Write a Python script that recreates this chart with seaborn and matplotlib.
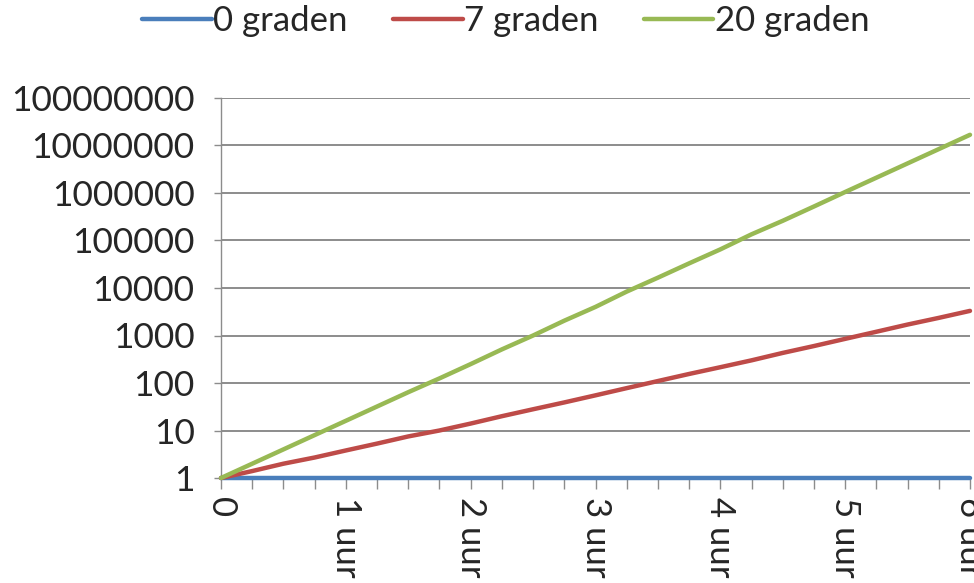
import matplotlib
matplotlib.use("Agg")
import matplotlib.pyplot as plt
import matplotlib.ticker as mticker
import seaborn as sns
import pandas as pd

# ---- data ----
hours = [0, 0.25, 0.5, 0.75, 1, 1.25, 1.5, 1.75, 2, 2.25, 2.5, 2.75, 3,
         3.25, 3.5, 3.75, 4, 4.25, 4.5, 4.75, 5, 5.25, 5.5, 5.75, 6]
series_names = ["0 graden", "7 graden", "20 graden"]
vals_0 = [1] * 25
vals_7 = [1, 1.4, 2, 2.7, 3.8, 5.3, 7.5, 10, 14, 20, 28, 39, 55, 78, 110,
          155, 215, 300, 430, 600, 850, 1200, 1700, 2350, 3300]
vals_20 = [1, 2, 4, 8, 16, 32, 64, 125, 250, 510, 1000, 2050, 4000, 8400,
           16500, 33000, 65000, 135000, 260000, 520000, 1050000, 2100000,
           4200000, 8400000, 16800000]
x_tick_pos = [0, 1, 2, 3, 4, 5, 6]
x_tick_labels = ["0", "1 uur", "2 uur", "3 uur", "4 uur", "5 uur", "6 uur"]
y_tick_pos = [1, 10, 100, 1000, 10000, 100000, 1000000, 10000000, 100000000]
y_tick_labels = ["1", "10", "100", "1000", "10000", "100000", "1000000",
                 "10000000", "100000000"]

df = pd.DataFrame({
    "uur": hours * 3,
    "aantal": vals_0 + vals_7 + vals_20,
    "serie": [series_names[0]] * len(hours) + [series_names[1]] * len(hours)
             + [series_names[2]] * len(hours),
})

sns.set_theme(style="white")
plt.rcParams["font.family"] = ["Lato", "DejaVu Sans"]

colors = {"0 graden": "#4A7EBB", "7 graden": "#BE4B48", "20 graden": "#98B954"}

fig = plt.figure(figsize=(9.74, 5.83), dpi=100)
ax = fig.add_axes([221 / 974, 1 - 478 / 583, (970 - 221) / 974, (478 - 98) / 583])

sns.lineplot(data=df, x="uur", y="aantal", hue="serie", palette=colors,
             hue_order=series_names, linewidth=3.2, ax=ax, legend=True,
             estimator=None, zorder=3)
for ln in ax.get_lines():
    ln.set_clip_on(False)

ax.set_yscale("log")
ax.set_ylim(1, 1e8)
ax.set_xlim(0, 6)

ax.set_yticks(y_tick_pos)
ax.yaxis.set_major_formatter(mticker.FixedFormatter(y_tick_labels))
ax.yaxis.set_minor_locator(mticker.NullLocator())
ax.set_xticks(x_tick_pos)
ax.set_xticklabels(x_tick_labels, rotation=-90, va="top", ha="center")
ax.set_xticks(hours, minor=True)

ax.grid(axis="y", color="#8C8C8C", linewidth=1.4)
ax.set_axisbelow(True)
for s in ["top", "right", "bottom"]:
    ax.spines[s].set_visible(False)
ax.spines["left"].set_color("#8C8C8C")
ax.spines["left"].set_linewidth(1.0)

ax.tick_params(axis="y", which="major", length=5, width=1.0, color="#8C8C8C",
               labelsize=25.5, pad=14, left=True, direction="out")
ax.tick_params(axis="x", which="both", length=8, width=1.0, color="#8C8C8C",
               labelsize=25, pad=6, bottom=True, direction="out")
ax.set_xlabel("")
ax.set_ylabel("")

handles, labels = ax.get_legend_handles_labels()
ax.legend(handles, labels, loc="upper center", bbox_to_anchor=(506 / 974, 1 - 5 / 583),
          bbox_transform=fig.transFigure, ncol=3, frameon=False, fontsize=25,
          handlelength=2.0, handletextpad=0.05, columnspacing=1.3,
          borderaxespad=0.0, borderpad=0.0)
for line in ax.get_legend().get_lines():
    line.set_linewidth(3.2)

fig.savefig("out.png", dpi=100)
